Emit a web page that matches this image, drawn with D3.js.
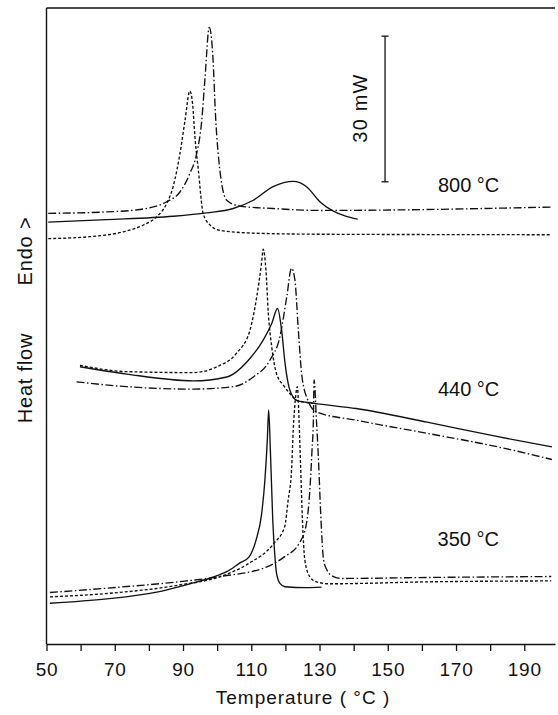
<!DOCTYPE html>
<html>
<head>
<meta charset="utf-8">
<script src="https://cdn.jsdelivr.net/npm/d3@7"></script>
<style>
  body { margin: 0; background: #fff; }
  text { font-family: "Liberation Sans", Arial, sans-serif; fill: #111; }
</style>
</head>
<body>
<div id="chart"></div>
<script>
var svgWidth = 558;
var svgHeight = 715;

// [temperature (°C), heat flow (mW, arbitrary offset)]
// 800 °C group
var s800Solid = [[50.5, 86.9], [67.6, 87.4], [87.1, 88.1], [96.9, 88.8], [104.7, 89.7], [110.6, 91.4],
  [116.4, 94.2], [122.3, 95.3], [126.2, 94.2], [130.1, 91.1], [133.9, 89.2], [137.4, 88.2], [141.2, 87.5]];
var s800Dashed = [[50.5, 83.5], [62.7, 83.9], [72.5, 84.9], [78.4, 86.3], [82.3, 88.0], [85.2, 90.7],
  [87.1, 94.2], [89.1, 101.0], [90.6, 107.9], [92.0, 113.9], [92.8, 111.3], [93.5, 104.4], [94.5, 97.6],
  [95.9, 88.7], [97.9, 86.3], [100.8, 85.2], [111.6, 84.6], [130.1, 84.4], [198, 84.3]];
var s800DashDot = [[50.5, 88.7], [67.6, 89.0], [77.4, 89.5], [85.2, 91.1], [89.1, 93.1], [92.0, 96.9],
  [94.0, 101.0], [95.5, 107.9], [96.4, 116.1], [97.7, 127.0], [98.7, 121.6], [99.6, 107.9], [100.8, 97.6],
  [102.8, 91.4], [106.7, 90.2], [116.4, 89.7], [130.1, 89.3], [198, 90.0]];

// 440 °C group
var s440Solid = [[59.8, 57.1], [73.5, 55.6], [93.0, 54.2], [102.8, 55.0], [109.6, 58.8], [113.5, 62.6],
  [116.0, 66.0], [117.7, 69.1], [118.9, 64.6], [119.9, 57.8], [121.3, 52.3], [123.3, 50.2], [128.1, 49.6],
  [140.7, 48.5], [161.5, 45.7], [182.3, 42.7], [198.1, 40.6]];
var s440Dashed = [[59.8, 57.4], [73.5, 56.1], [93.0, 55.9], [99.9, 57.1], [105.7, 59.9], [109.6, 64.6],
  [111.6, 71.5], [113.0, 78.4], [113.5, 81.3], [114.3, 77.0], [115.0, 68.1], [116.0, 61.2], [117.4, 55.7],
  [119.4, 53.3], [121.3, 51.6], [123.3, 50.2], [128.1, 49.6]];
var s440DashDot = [[58.8, 54.0], [73.5, 53.0], [93.0, 52.5], [104.7, 53.0], [110.6, 55.0], [115.5, 58.5],
  [118.4, 63.3], [120.4, 71.5], [121.8, 77.4], [122.8, 74.9], [123.8, 64.6], [124.8, 55.4], [126.6, 50.2],
  [129.1, 47.8], [140.7, 46.1], [161.5, 43.4], [182.3, 40.6], [198.1, 38.0]];

// 350 °C group
var s350Solid = [[51.0, 8.4], [67.7, 9.3], [82.3, 10.7], [92.0, 12.4], [98.9, 13.8], [102.8, 14.9],
  [106.7, 16.7], [109.3, 17.9], [111.4, 21.4], [113.0, 26.6], [114.0, 33.8], [114.7, 42.0], [115.1, 48.2],
  [115.6, 39.9], [116.3, 25.5], [116.9, 18.3], [117.4, 14.6], [118.4, 12.5], [119.9, 11.8], [126.2, 11.6],
  [130.6, 11.7]];
var s350Dashed = [[51.0, 9.7], [67.7, 10.4], [88.5, 12.1], [101.0, 13.9], [109.3, 16.6], [116.6, 20.7],
  [119.8, 24.2], [120.8, 29.6], [121.8, 35.8], [122.3, 44.1], [122.9, 50.2], [123.5, 53.0], [124.0, 46.1],
  [124.4, 37.9], [125.0, 25.5], [125.7, 17.3], [127.2, 13.8], [129.1, 12.8], [133.0, 12.4], [161.5, 12.8],
  [197.9, 13.0]];
var s350DashDot = [[51.0, 10.6], [67.7, 11.5], [88.5, 12.8], [101.0, 13.9], [114.6, 15.9], [119.8, 18.0],
  [124.0, 20.7], [126.0, 24.2], [127.1, 31.0], [127.8, 39.9], [128.2, 46.1], [128.4, 54.4], [129.1, 46.1],
  [129.7, 37.9], [130.3, 27.6], [131.2, 17.3], [132.2, 15.2], [133.3, 14.2], [136.4, 13.5], [161.5, 13.7],
  [197.9, 13.9]];

var xTicks = [50, 60, 70, 80, 90, 100, 110, 120, 130, 140, 150, 160, 170, 180, 190];
var xLabels = [50, 70, 90, 110, 130, 150, 170, 190];
var groupLabels = ["800 °C", "440 °C", "350 °C"];
var groupLabelT = [164.7, 164.7, 164.6];
var groupLabelV = [93.2, 51.1, 20.2];
var scaleBar = {t: 149.2, from: 95.2, size: 30, label: "30 mW"};

var margin = {top: 8, right: 3, bottom: 71, left: 46.5};
var width = svgWidth - margin.left - margin.right;
var height = svgHeight - margin.top - margin.bottom;

var svg = d3.select("#chart")
  .append("svg")
  .attr("width", svgWidth)
  .attr("height", svgHeight);

var chartGroup = svg.append("g")
  .attr("transform", `translate(${margin.left}, ${margin.top})`);

var xScale = d3.scaleLinear().domain([50, 199]).range([0, width]);
var yScale = d3.scaleLinear().domain([0, 131]).range([height, 0]);

// frame: left + top lines
chartGroup.append("line")
  .attr("x1", 0).attr("x2", 0).attr("y1", 0).attr("y2", height)
  .attr("stroke", "#111").attr("stroke-width", 1.4);
chartGroup.append("line")
  .attr("x1", 0).attr("x2", width).attr("y1", 0).attr("y2", 0)
  .attr("stroke", "#111").attr("stroke-width", 1.4);

var bottomAxis = d3.axisBottom(xScale)
  .tickValues(xTicks)
  .tickSize(7)
  .tickSizeOuter(0)
  .tickPadding(12)
  .tickFormat(d => xLabels.indexOf(d) >= 0 ? d : "");

var xAxisG = chartGroup.append("g")
  .attr("transform", `translate(0, ${height})`)
  .call(bottomAxis);
xAxisG.select(".domain").attr("stroke", "#111").attr("stroke-width", 1.4);
xAxisG.selectAll(".tick line").attr("stroke", "#111").attr("stroke-width", 1.3);
xAxisG.selectAll(".tick text")
  .style("font-family", "'Liberation Sans', Arial, sans-serif")
  .style("font-size", "19px")
  .style("letter-spacing", "0.8px")
  .attr("fill", "#111");

// curves
var line = d3.line()
  .x(d => xScale(d[0]))
  .y(d => yScale(d[1]))
  .curve(d3.curveMonotoneX);

var curves = [
  {data: s800Solid, dash: null}, {data: s800Dashed, dash: "3,2"}, {data: s800DashDot, dash: "8,2.5,1.5,2.5"},
  {data: s440Solid, dash: null}, {data: s440Dashed, dash: "3,2"}, {data: s440DashDot, dash: "8,2.5,1.5,2.5"},
  {data: s350Solid, dash: null}, {data: s350Dashed, dash: "3,2"}, {data: s350DashDot, dash: "8,2.5,1.5,2.5"}
];

chartGroup.selectAll("path.curve")
  .data(curves)
  .enter()
  .append("path")
  .attr("class", "curve")
  .attr("d", d => line(d.data))
  .attr("fill", "none")
  .attr("stroke", "#111")
  .attr("stroke-width", 1.35)
  .attr("stroke-dasharray", d => d.dash);

// scale bar
var sbX = xScale(scaleBar.t);
var sbY1 = yScale(scaleBar.from);
var sbY2 = yScale(scaleBar.from + scaleBar.size);
chartGroup.append("line")
  .attr("x1", sbX).attr("x2", sbX).attr("y1", sbY1).attr("y2", sbY2)
  .attr("stroke", "#111").attr("stroke-width", 1.3);
[sbY1, sbY2].forEach(function(y) {
  chartGroup.append("line")
    .attr("x1", sbX - 3.5).attr("x2", sbX + 3.5).attr("y1", y).attr("y2", y)
    .attr("stroke", "#111").attr("stroke-width", 1.3);
});
chartGroup.append("text")
  .attr("transform", `translate(${sbX - 18}, ${(sbY1 + sbY2) / 2 - 1}) rotate(-90)`)
  .attr("text-anchor", "middle")
  .style("font-size", "20px")
  .style("letter-spacing", "1.2px")
  .text(scaleBar.label);

// group labels
chartGroup.selectAll("text.group")
  .data(groupLabels)
  .enter()
  .append("text")
  .attr("class", "group")
  .attr("x", (d, i) => xScale(groupLabelT[i]))
  .attr("y", (d, i) => yScale(groupLabelV[i]))
  .style("font-size", "20px")
  .text(d => d);

// axis labels
svg.append("text")
  .attr("transform", "translate(303, 704)")
  .attr("text-anchor", "middle")
  .style("font-size", "19px")
  .style("letter-spacing", "1px")
  .text("Temperature ( °C )");

svg.append("text")
  .attr("transform", "translate(32, 251) rotate(-90)")
  .attr("text-anchor", "middle")
  .style("font-size", "20px")
  .style("letter-spacing", "0.8px")
  .text("Endo >");

svg.append("text")
  .attr("transform", "translate(32, 378) rotate(-90)")
  .attr("text-anchor", "middle")
  .style("font-size", "20px")
  .style("letter-spacing", "0.8px")
  .text("Heat flow");
</script>
</body>
</html>
